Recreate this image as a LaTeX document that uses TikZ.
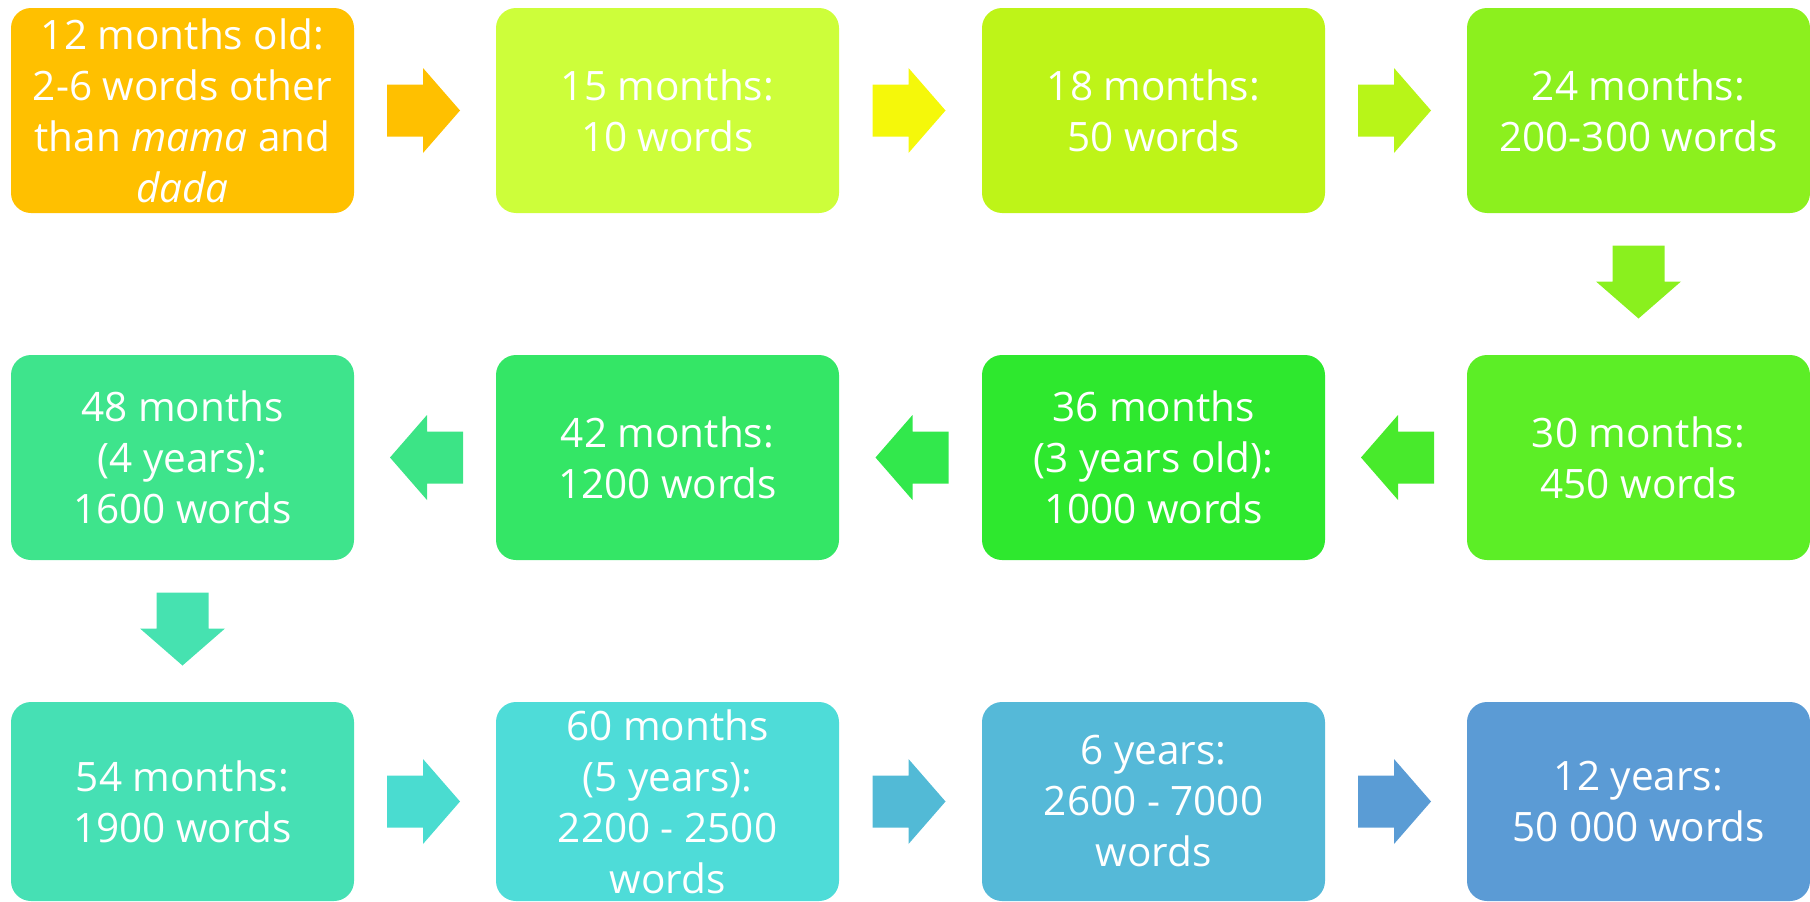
\documentclass[tikz,border=0pt]{standalone}
\usepackage{fontspec}
\setmainfont{Open Sans}
\usetikzlibrary{calc}
\definecolor{cA}{HTML}{FFC000}
\definecolor{cB}{HTML}{CDFE3A}
\definecolor{cC}{HTML}{BEF418}
\definecolor{cD}{HTML}{8CF01E}
\definecolor{cE}{HTML}{5CEE26}
\definecolor{cF}{HTML}{2EE82E}
\definecolor{cG}{HTML}{34E666}
\definecolor{cH}{HTML}{3EE48C}
\definecolor{cI}{HTML}{46E0B4}
\definecolor{cJ}{HTML}{4EDCD8}
\definecolor{cK}{HTML}{55B9D8}
\definecolor{cL}{HTML}{5B9BD5}
\definecolor{aA}{HTML}{FFC000}
\definecolor{aB}{HTML}{F5F80A}
\definecolor{aC}{HTML}{B8F518}
\definecolor{aD}{HTML}{8AF01E}
\definecolor{aE}{HTML}{48EA2C}
\definecolor{aF}{HTML}{32E84C}
\definecolor{aG}{HTML}{3CE486}
\definecolor{aH}{HTML}{46E2B0}
\definecolor{aI}{HTML}{4ADCD0}
\definecolor{aJ}{HTML}{52BAD6}
\definecolor{aK}{HTML}{5A9CD5}
\newcommand\arrR[3]{\fill[#3] ($(#1.east)!0.5!(#2.west)$) ++(-38,-26) -- ++(36,0) -- ++(0,-16.5) -- ++(37,42.5) -- ++(-37,42.5) -- ++(0,-16.5) -- ++(-36,0) -- cycle;}
\newcommand\arrL[3]{\fill[#3] ($(#1.west)!0.5!(#2.east)$) ++(38,-26) -- ++(-36,0) -- ++(0,-16.5) -- ++(-37,42.5) -- ++(37,42.5) -- ++(0,-16.5) -- ++(36,0) -- cycle;}
\newcommand\arrD[3]{\fill[#3] ($(#1.south)!0.5!(#2.north)$) ++(-26,-38.5) -- ++(0,36) -- ++(-16.5,0) -- ++(42.5,37) -- ++(42.5,-37) -- ++(-16.5,0) -- ++(0,-36) -- cycle;}
\tikzset{
  stagebox/.style={rounded corners=20pt, minimum width=343pt, minimum height=205pt,
    inner sep=0pt, text=white, align=center, font=\fontsize{40.5}{51}\selectfont},
  lastrow/.style={stagebox, minimum height=199pt}
}
\begin{document}
\begin{tikzpicture}[x=1pt,y=-1pt]
\useasboundingbox (0,0) rectangle (1810,902);
% row 1
\node[stagebox, fill=cA] (b1) at (182.5,110.5) {12 months old:\\2-6 words other\\than \textit{mama} and\\\textit{dada}};
\node[stagebox, fill=cB] (b2) at (667.5,110.5) {15 months:\\10 words};
\node[stagebox, fill=cC] (b3) at (1153.5,110.5) {18 months:\\50 words};
\node[stagebox, fill=cD] (b4) at (1638.5,110.5) {24 months:\\200-300 words};
% row 2
\node[stagebox, fill=cE] (b5) at (1638.5,457.5) {30 months:\\450 words};
\node[stagebox, fill=cF] (b6) at (1153.5,457.5) {36 months\\(3 years old):\\1000 words};
\node[stagebox, fill=cG] (b7) at (667.5,457.5) {42 months:\\1200 words};
\node[stagebox, fill=cH] (b8) at (182.5,457.5) {48 months\\(4 years):\\1600 words};
% row 3
\node[lastrow, fill=cI] (b9) at (182.5,801.5) {54 months:\\1900 words};
\node[lastrow, fill=cJ] (b10) at (667.5,801.5) {60 months\\(5 years):\\2200 - 2500\\words};
\node[lastrow, fill=cK] (b11) at (1153.5,801.5) {6 years:\\2600 - 7000\\words};
\node[lastrow, fill=cL] (b12) at (1638.5,801.5) {12 years:\\50 000 words};
% arrows
\arrR{b1}{b2}{aA}
\arrR{b2}{b3}{aB}
\arrR{b3}{b4}{aC}
\arrD{b4}{b5}{aD}
\arrL{b5}{b6}{aE}
\arrL{b6}{b7}{aF}
\arrL{b7}{b8}{aG}
\arrD{b8}{b9}{aH}
\arrR{b9}{b10}{aI}
\arrR{b10}{b11}{aJ}
\arrR{b11}{b12}{aK}
\end{tikzpicture}
\end{document}
